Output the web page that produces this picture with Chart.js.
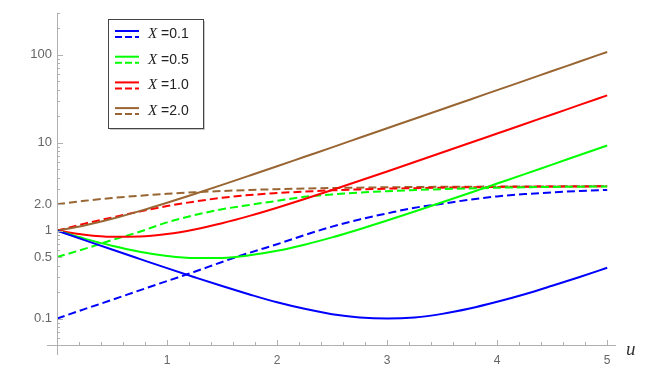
<!DOCTYPE html>
<html>
<head>
<meta charset="utf-8">
<script src="https://cdn.jsdelivr.net/npm/chart.js@4.4.0/dist/chart.umd.min.js"></script>
<style>
  html, body { margin: 0; padding: 0; background: #fff; }
</style>
</head>
<body>
<canvas id="myChart" width="664" height="377"></canvas>
<script>
// values
const uValues = [0, 0.25, 0.5, 0.75, 1, 1.25, 1.5, 1.75, 2, 2.25, 2.5, 2.75, 3, 3.25, 3.5, 3.75, 4, 4.25, 4.5, 4.75, 5];

const solid01 = [1, 0.780, 0.609, 0.477, 0.374, 0.295, 0.234, 0.188, 0.153, 0.129, 0.112, 0.103, 0.100, 0.103, 0.113, 0.130, 0.155, 0.189, 0.236, 0.297, 0.378];
const dashed01 = [0.10, 0.128, 0.163, 0.209, 0.267, 0.34, 0.44, 0.56, 0.70, 0.89, 1.11, 1.34, 1.57, 1.82, 2.02, 2.25, 2.45, 2.60, 2.72, 2.82, 2.90];
const solid05 = [1, 0.810, 0.672, 0.575, 0.515, 0.487, 0.489, 0.523, 0.589, 0.692, 0.838, 1.038, 1.302, 1.648, 2.098, 2.679, 3.429, 4.39, 5.636, 7.23, 9.28];
const dashed05 = [0.5, 0.62, 0.78, 0.97, 1.24, 1.50, 1.75, 1.96, 2.18, 2.42, 2.58, 2.71, 2.81, 2.89, 2.96, 3.02, 3.07, 3.11, 3.14, 3.16, 3.18];
const solid10 = [1, 0.896, 0.849, 0.855, 0.914, 1.031, 1.213, 1.471, 1.822, 2.287, 2.895, 3.686, 4.708, 6.026, 7.722, 9.904, 12.71, 16.31, 20.94, 26.88, 34.51];
const dashed10 = [1.0, 1.2, 1.41, 1.65, 1.9, 2.14, 2.36, 2.54, 2.67, 2.78, 2.87, 2.94, 3.0, 3.04, 3.08, 3.11, 3.14, 3.16, 3.17, 3.18, 3.19];
const solid20 = [1, 1.145, 1.362, 1.665, 2.072, 2.609, 3.31, 4.22, 5.39, 6.91, 8.85, 11.36, 14.58, 18.71, 24.02, 30.83, 39.59, 50.83, 65.27, 83.8, 107.6];
const dashed20 = [2.0, 2.18, 2.35, 2.49, 2.62, 2.73, 2.82, 2.90, 2.96, 3.01, 3.05, 3.08, 3.11, 3.13, 3.15, 3.16, 3.17, 3.18, 3.18, 3.19, 3.19];

const legendLabels = ['0.1', '0.5', '1.0', '2.0'];
const xTicks = [1, 2, 3, 4, 5];
const yTicks = [0.1, 0.5, 1, 2, 10, 100];
const yTickLabels = ['0.1', '0.5', '1', '2.0', '10', '100'];

const colors = ['rgb(0,0,255)', 'rgb(0,255,0)', 'rgb(255,0,0)', 'rgb(153,102,51)'];
const solids = [solid01, solid05, solid10, solid20];
const dasheds = [dashed01, dashed05, dashed10, dashed20];

function toPoints(arr) {
    return uValues.map((u, i) => ({ x: u, y: arr[i] }));
}

const datasets = [];
solids.forEach((s, i) => {
    datasets.push({
        label: 'X =' + legendLabels[i],
        data: toPoints(s),
        borderColor: colors[i],
        borderWidth: 2,
        pointRadius: 0,
        fill: false,
        cubicInterpolationMode: 'monotone'
    });
});
dasheds.forEach((s, i) => {
    datasets.push({
        label: 'X =' + legendLabels[i] + ' dashed',
        data: toPoints(s),
        borderColor: colors[i],
        borderWidth: 2,
        borderDash: [8, 4],
        pointRadius: 0,
        fill: false,
        cubicInterpolationMode: 'monotone'
    });
});

// axes lines, inward ticks, axis label and the framed legend
const mmaPlugin = {
    id: 'mmaPlugin',
    afterDraw(chart) {
        const ctx = chart.ctx;
        const area = chart.chartArea;
        const xs = chart.scales.x;
        const ys = chart.scales.y;
        ctx.save();
        ctx.strokeStyle = '#b0b0b0';
        ctx.lineWidth = 1;
        ctx.beginPath();
        ctx.moveTo(area.left - 10, area.bottom + 0.5);
        ctx.lineTo(area.right, area.bottom + 0.5);
        ctx.moveTo(area.left + 0.5, area.top);
        ctx.lineTo(area.left + 0.5, area.bottom + 10);
        ctx.stroke();

        // x ticks
        ctx.beginPath();
        for (let k = 0; k <= 25; k++) {
            const v = k / 5;
            const px = Math.round(xs.getPixelForValue(v)) + 0.5;
            const len = (k % 5 === 0) ? 5 : 3;
            ctx.moveTo(px, area.bottom);
            ctx.lineTo(px, area.bottom - len);
        }
        // y ticks
        [0.01, 0.1, 1, 10, 100].forEach(dec => {
            for (let m = 1; m <= 9; m++) {
                const v = dec * m;
                if (v < 0.05 || v > 300) continue;
                const py = Math.round(ys.getPixelForValue(v)) + 0.5;
                const len = (m === 1) ? 6 : (m === 5 && dec === 0.1) || (m === 2 && dec === 1) ? 5 : 3;
                ctx.moveTo(area.left, py);
                ctx.lineTo(area.left + len, py);
            }
        });
        ctx.stroke();

        // axis label
        ctx.fillStyle = '#333';
        ctx.font = 'italic 19px "Liberation Serif"';
        ctx.textBaseline = 'middle';
        ctx.fillText('u', area.right + 10, area.bottom + 5);

        // legend
        const bx = 108, by = 19, bw = 95, bh = 109;
        ctx.fillStyle = '#c8c8c8';
        ctx.fillRect(bx + 2, by + 2, bw, bh);
        ctx.fillStyle = '#fff';
        ctx.fillRect(bx, by, bw, bh);
        ctx.strokeStyle = '#444';
        ctx.strokeRect(bx + 0.5, by + 0.5, bw, bh);
        for (let i = 0; i < 4; i++) {
            const y0 = 31 + i * 25.7;
            ctx.strokeStyle = colors[i];
            ctx.lineWidth = 2;
            ctx.setLineDash([]);
            ctx.beginPath();
            ctx.moveTo(115, y0);
            ctx.lineTo(139, y0);
            ctx.stroke();
            ctx.setLineDash([7, 3]);
            ctx.beginPath();
            ctx.moveTo(115, y0 + 6);
            ctx.lineTo(139, y0 + 6);
            ctx.stroke();
            ctx.setLineDash([]);
            ctx.fillStyle = '#222';
            ctx.font = 'italic 15px "Liberation Serif"';
            ctx.fillText('X', 148, y0 + 3);
            const w = ctx.measureText('X').width;
            ctx.font = '14px "Liberation Sans"';
            ctx.fillText(' =' + legendLabels[i], 148 + w, y0 + 3);
        }
        ctx.restore();
    }
};

const chart = new Chart(document.getElementById('myChart'), {
    type: 'line',
    data: { datasets: datasets },
    options: {
        responsive: false,
        animation: false,
        layout: { padding: { left: 0, right: 48, top: 12, bottom: 0 } },
        plugins: {
            legend: { display: false },
            tooltip: { enabled: false }
        },
        scales: {
            x: {
                type: 'linear',
                min: 0,
                max: 5.08,
                grid: { display: false, drawTicks: false },
                border: { display: false },
                afterBuildTicks: (s) => { s.ticks = xTicks.map(v => ({ value: v })); },
                afterFit: (s) => { s.height = 32; },
                ticks: {
                    autoSkip: false,
                    maxRotation: 0,
                    padding: 8,
                    color: '#666',
                    font: { family: 'Liberation Sans', size: 12 },
                    callback: (v) => String(v)
                }
            },
            y: {
                type: 'logarithmic',
                min: 0.05,
                max: 300,
                grid: { display: false, drawTicks: false },
                border: { display: false },
                afterBuildTicks: (s) => { s.ticks = yTicks.map(v => ({ value: v })); },
                afterFit: (s) => { s.width = 57; },
                ticks: {
                    autoSkip: false,
                    padding: 5,
                    color: '#666',
                    font: { family: 'Liberation Sans', size: 13 },
                    callback: (v) => yTickLabels[yTicks.indexOf(v)]
                }
            }
        }
    },
    plugins: [mmaPlugin]
});
</script>
</body>
</html>
